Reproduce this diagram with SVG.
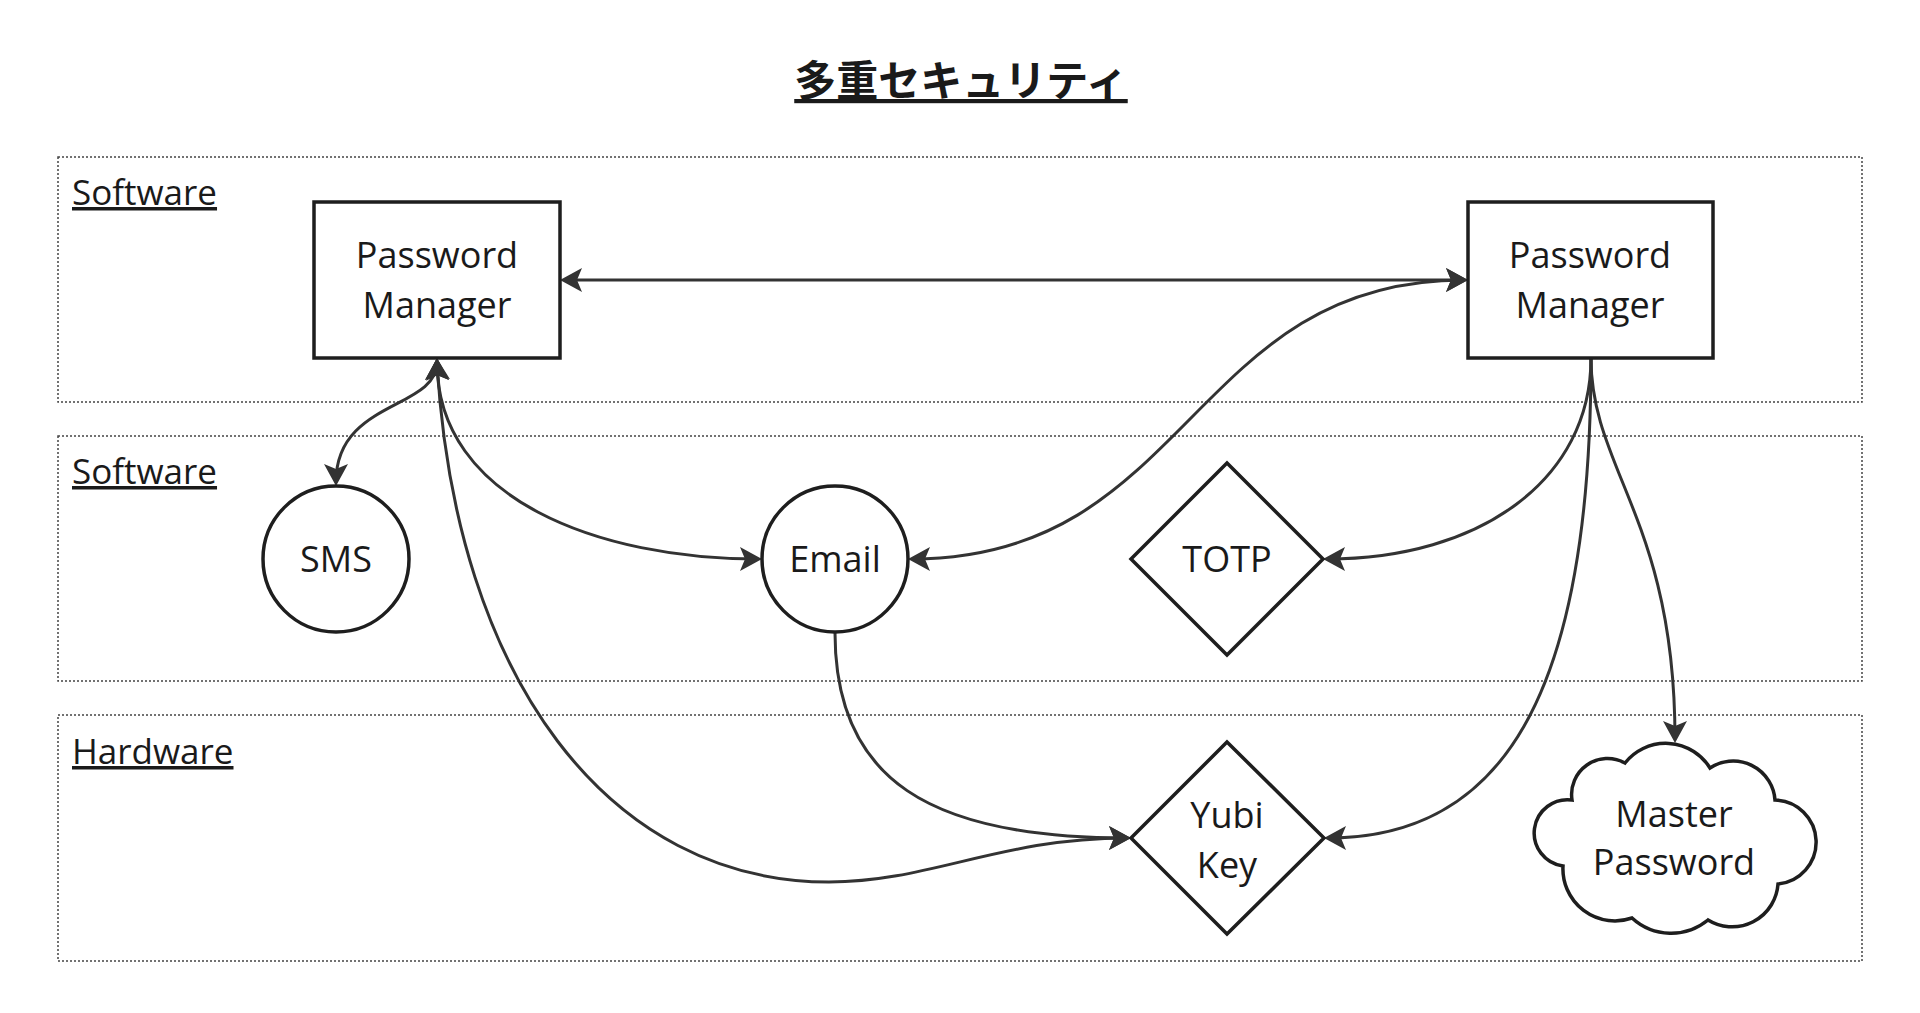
<svg xmlns="http://www.w3.org/2000/svg" width="1920" height="1013" viewBox="0 0 1920 1013">
<style>
.grp{fill:none;stroke:#444;stroke-width:1.5;stroke-dasharray:2 2}
.glabel{font-family:"Open Sans","Noto Sans",sans-serif;font-size:35px;fill:#1a1a1a;text-decoration:underline}
.node{fill:#fff;stroke:#1e1e1e;stroke-width:3.5}
.ntext{font-family:"Open Sans","Noto Sans",sans-serif;font-size:36px;fill:#1a1a1a;text-anchor:middle}
.title{font-family:"Noto Sans CJK JP","Noto Sans",sans-serif;font-size:42px;font-weight:bold;fill:#1a1a1a;text-anchor:middle;text-decoration:underline}
.conn{fill:none;stroke:#333;stroke-width:3}
.both{marker-start:url(#arr);marker-end:url(#arr)}
.end{marker-end:url(#arr)}
</style>
<defs>
<marker id="arr" markerUnits="userSpaceOnUse" markerWidth="22" markerHeight="24" viewBox="0 0 22 24" refX="18" refY="12" orient="auto-start-reverse">
<path d="M22,12 L0,0 L5,12 L0,24 Z" fill="#333"/>
</marker>
</defs>
<rect width="1920" height="1013" fill="#fff"/>
<text class="title" x="961" y="96">多重セキュリティ</text>
<g id="group-software-1">
<rect class="grp" x="58" y="157" width="1804" height="245"/>
<text class="glabel" x="72" y="205">Software</text>
</g>
<g id="group-software-2">
<rect class="grp" x="58" y="436" width="1804" height="245"/>
<text class="glabel" x="72" y="484">Software</text>
</g>
<g id="group-hardware">
<rect class="grp" x="58" y="715" width="1804" height="246"/>
<text class="glabel" x="72" y="764">Hardware</text>
</g>
<g id="connectors">
<path class="conn both" d="M564 280 L1464 280"/>
<path class="conn both" d="M912 559 C1190 559 1190 280 1464 280"/>
<path class="conn both" d="M437 362 C437 410 336 400 336 482"/>
<path class="conn both" d="M437 362 C437 500 600 559 758 559"/>
<path class="conn both" d="M437 362 C455 680 610 882 829 882 C930 882 1000 838 1127 838"/>
<path class="conn end" d="M835 633 C835 780 930 838 1127 838"/>
<path class="conn end" d="M1591 358 C1591 480 1480 559 1327 559"/>
<path class="conn end" d="M1591 358 C1591 700 1500 838 1328 838"/>
<path class="conn end" d="M1591 358 C1591 470 1675 520 1675 739"/>
</g>
<g id="pm-left">
<rect class="node" x="314" y="202" width="246" height="156"/>
<text class="ntext" x="437" y="268">Password</text>
<text class="ntext" x="437" y="318">Manager</text>
</g>
<g id="pm-right">
<rect class="node" x="1468" y="202" width="245" height="156"/>
<text class="ntext" x="1590" y="268">Password</text>
<text class="ntext" x="1590" y="318">Manager</text>
</g>
<g id="sms">
<circle class="node" cx="336" cy="559" r="73"/>
<text class="ntext" x="336" y="572">SMS</text>
</g>
<g id="email">
<circle class="node" cx="835" cy="559" r="73"/>
<text class="ntext" x="835" y="572">Email</text>
</g>
<g id="totp">
<path class="node" d="M1227 463 L1323 559 L1227 655 L1131 559 Z"/>
<text class="ntext" x="1227" y="572">TOTP</text>
</g>
<g id="yubikey">
<path class="node" d="M1227 742 L1324 838 L1227 934 L1131 838 Z"/>
<text class="ntext" x="1227" y="828">Yubi</text>
<text class="ntext" x="1227" y="878">Key</text>
</g>
<g id="master-password">
<path class="node" d="M1625 763 A52 52 0 0 1 1710 768 A42 42 0 0 1 1775 800 A42.1 42.1 0 0 1 1778 884 A46 46 0 0 1 1708 920 A58 58 0 0 1 1632 918 A52 52 0 0 1 1563 866 A32 32 0 0 1 1572 800 A36 36 0 0 1 1625 763 Z"/>
<text class="ntext" x="1674" y="827">Master</text>
<text class="ntext" x="1674" y="875">Password</text>
</g>
</svg>
